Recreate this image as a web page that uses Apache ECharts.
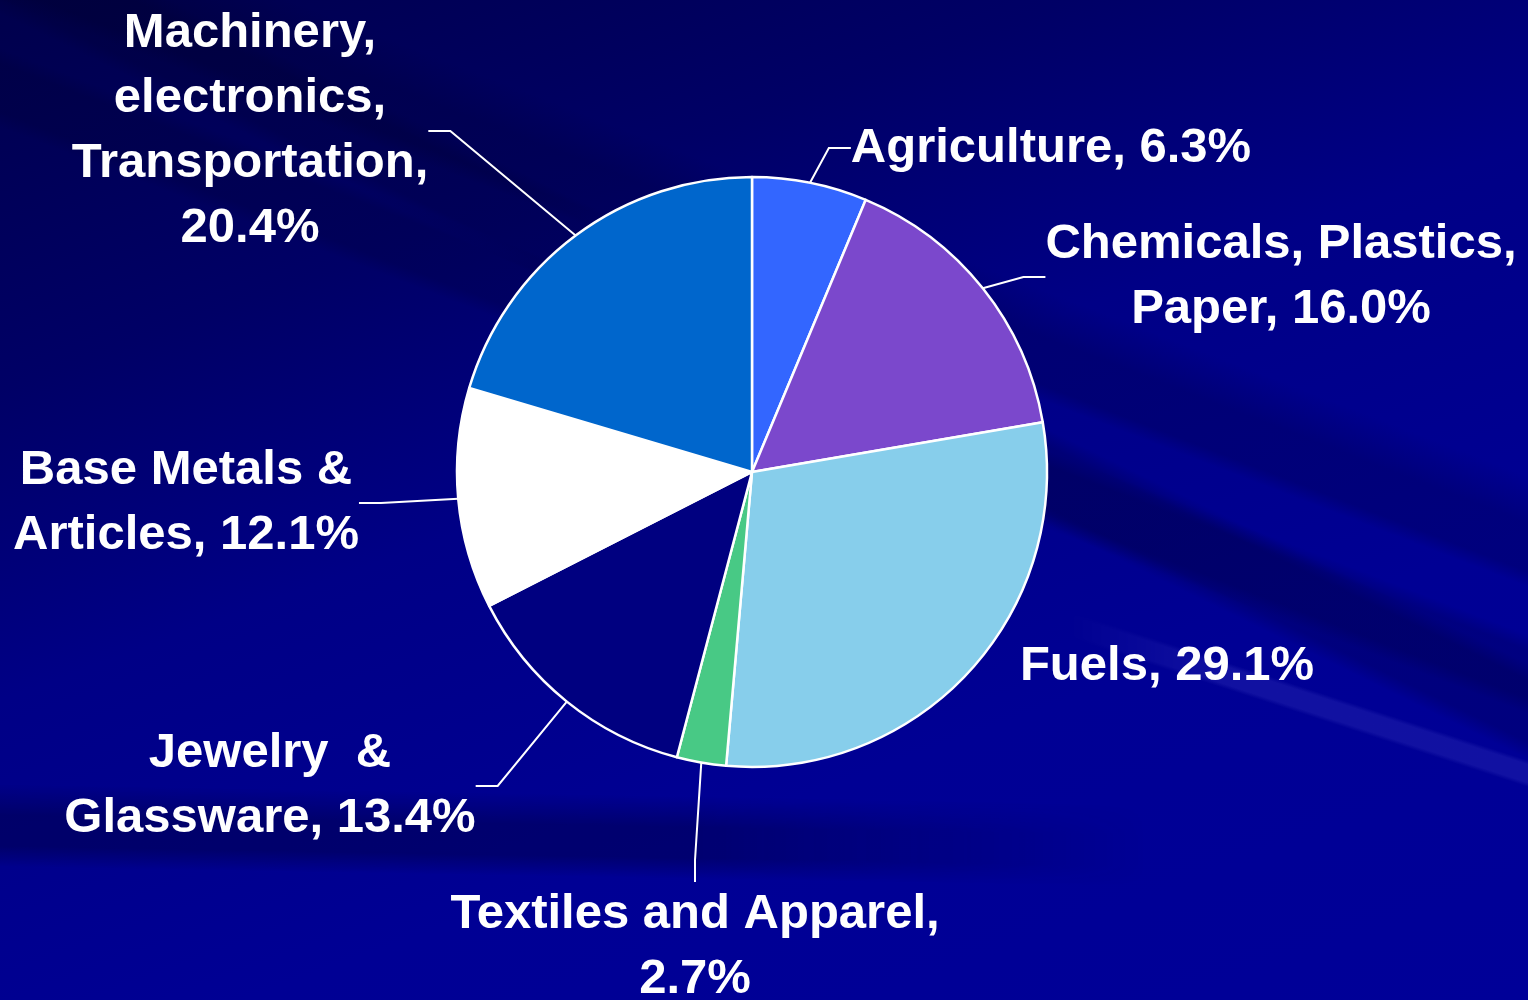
<!DOCTYPE html>
<html>
<head>
<meta charset="utf-8">
<script src="https://cdn.jsdelivr.net/npm/echarts@6/dist/echarts.min.js"></script>
<style>
html, body { margin: 0; padding: 0; background: #000090; }
.wrap { position: relative; width: 1528px; height: 1000px; overflow: hidden;
    background: linear-gradient(160deg, #00004c 0%, #000066 25%, #000086 45%, #000094 70%, #000098 100%); }
.layer { position: absolute; left: 0; top: 0; width: 1528px; height: 1000px; }
/* darker streaks across the upper half */
.streaks {
    background:
        linear-gradient(201deg, rgba(0,0,0,0) 30%, rgba(0,0,35,0.2) 33%, rgba(0,0,35,0.2) 36%, rgba(0,0,0,0) 37%,
                                rgba(0,0,0,0) 40%, rgba(0,0,35,0.18) 41%, rgba(0,0,35,0.18) 44%, rgba(0,0,0,0) 45%),
        linear-gradient(206deg, rgba(0,0,0,0) 38%, rgba(0,0,35,0.2) 39%, rgba(0,0,35,0.2) 42.5%, rgba(0,0,0,0) 43.5%);
}
/* faint light streak on the right */
.light {
    background: linear-gradient(198deg, rgba(255,255,255,0) 50.8%, rgba(140,140,255,0.12) 51.1%, rgba(140,140,255,0.12) 52.3%, rgba(255,255,255,0) 52.6%);
    -webkit-mask-image: linear-gradient(to right, transparent 70%, black 80%);
    mask-image: linear-gradient(to right, transparent 70%, black 80%);
}
/* dark band low on the left */
.lowband {
    background: linear-gradient(181deg, rgba(0,0,0,0) 79%, rgba(0,0,30,0.3) 82%, rgba(0,0,30,0.3) 85%, rgba(0,0,0,0) 87%);
    -webkit-mask-image: linear-gradient(to right, black 45%, transparent 75%);
    mask-image: linear-gradient(to right, black 45%, transparent 75%);
}
#main_chart { position: absolute; left: 0; top: 0; width: 1528px; height: 1000px; }
</style>
</head>
<body>
<div class="wrap">
    <div class="layer streaks"></div>
    <div class="layer light"></div>
    <div class="layer lowband"></div>
    <div id="main_chart"></div>
</div>
<script>
    var categories = ['Agriculture', 'Chemicals, Plastics,\nPaper', 'Fuels', 'Textiles and Apparel',
                      'Jewelry  &\nGlassware', 'Base Metals &\nArticles', 'Machinery,\nelectronics,\nTransportation'];
    var shares = [6.3, 16.0, 29.1, 2.7, 13.4, 12.1, 20.4];
    var valueBreaks = [' ', ' ', ' ', '\n', ' ', ' ', '\n'];

    var sliceColors = ['#3366FF', '#7B48CC', '#87CEEB', '#48C985', '#000080', '#FFFFFF', '#0066CC'];
    // label block centres (px)
    var labelSpots = [[1051, 148], [1281, 277], [1167, 666], [695, 947], [270, 786], [186, 503], [250, 131]];

    var main_chart = echarts.init(document.getElementById('main_chart'));

    var pieData = [];
    for (var i = 0; i < categories.length; i++) {
        pieData.push({
            name: categories[i],
            value: shares[i],
            itemStyle: { color: sliceColors[i] },
            labelLine: { show: i !== 2 }
        });
    }

    var chartOpt = {
        backgroundColor: 'transparent',
        animation: false,
        series: [{
            type: 'pie',
            center: [752, 472],
            radius: 295,
            startAngle: 90,
            clockwise: true,
            data: pieData,
            itemStyle: { borderColor: '#FFFFFF', borderWidth: 2.5 },
            label: {
                show: true,
                position: 'outside',
                color: '#FFFFFF',
                fontFamily: 'Liberation Sans, Arial, sans-serif',
                fontWeight: 'bold',
                fontSize: 49,
                lineHeight: 65,
                align: 'center',
                formatter: function(p){
                    return p.name + ',' + valueBreaks[p.dataIndex] + p.value.toFixed(1) + '%';
                }
            },
            labelLine: {
                show: true,
                length: 30,
                length2: 22,
                lineStyle: { color: '#FFFFFF', width: 2 }
            },
            labelLayout: function(params){
                var p = labelSpots[params.dataIndex];
                return { x: p[0], y: p[1], align: 'center', verticalAlign: 'middle' };
            }
        }]
    };
    main_chart.setOption(chartOpt);
</script>
</body>
</html>
